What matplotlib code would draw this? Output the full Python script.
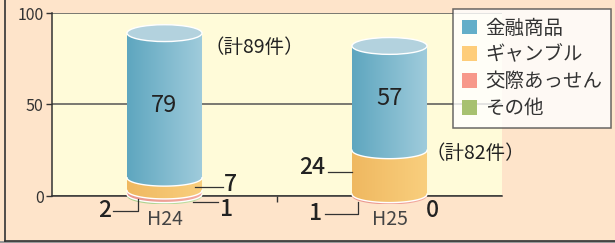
import numpy as np
import matplotlib
matplotlib.use("Agg")
import matplotlib.pyplot as plt
from matplotlib.patches import Polygon, Ellipse, Rectangle, Patch
from matplotlib.colors import LinearSegmentedColormap
from matplotlib.lines import Line2D

plt.rcParams['font.family'] = ['Noto Sans CJK JP', 'DejaVu Sans']

# ---- data ----
years = ["H24", "H25"]
series_names = ["金融商品", "ギャンブル", "交際あっせん", "その他"]
kinyu = [79, 57]
gamble = [7, 24]
kosai = [2, 1]
sonota = [1, 0]
totals = [89, 82]
yticks = [0, 50, 100]

legend_colors = ["#63aec9", "#fecd7a", "#f7988a", "#a7c170"]
grad_colors = [("#5ea6bf", "#a0ccdc"), ("#efb860", "#f9cf7e"),
               ("#e9958c", "#f4aca2"), ("#a9cf8a", "#c4e2a8")]
top_color = "#b3d2de"

W, H = 615, 243
fig = plt.figure(figsize=(W / 100, H / 100), dpi=100)
fig.patch.set_facecolor("#fee4ca")

ax = fig.add_axes([52 / W, 1 - 196 / H, 450 / W, 183 / H])
ax.set_facecolor("#fffbd9")

XMIN, XMAX, YMIN, YMAX = -0.5, 1.5, 0, 100
hw = 0.1667
ry = 4.6

grad = np.linspace(0, 1, 256).reshape(1, -1)
z = 3


def draw_segment(xc, y0, y1, cols, edge):
    global z
    cmap = LinearSegmentedColormap.from_list("g", list(cols))
    t = np.linspace(np.pi, 2 * np.pi, 80)
    ax_ = xc + hw * np.cos(t)
    ay_ = y0 + ry * np.sin(t)
    verts = [(xc - hw, y1)] + list(zip(ax_, ay_)) + [(xc + hw, y1)]
    poly = Polygon(verts, closed=True, transform=ax.transData,
                   facecolor="none", edgecolor="none", zorder=z)
    ax.add_patch(poly)
    im = ax.imshow(grad, extent=[xc - hw, xc + hw, y0 - ry, y1], aspect="auto",
                   cmap=cmap, origin="lower", zorder=z, interpolation="bilinear")
    im.set_clip_box(fig.bbox)
    im.set_clip_path(poly)
    if edge:
        ax.plot(ax_, ay_, color="white", lw=1.0, zorder=z + 0.5, clip_on=False)
    z += 1


stack = [sonota, kosai, gamble, kinyu]
for i, yr in enumerate(years):
    base = 0
    first = True
    for k in range(4):
        v = stack[k][i]
        if v <= 0:
            continue
        draw_segment(i, base, base + v, grad_colors[3 - k], edge=not first)
        first = False
        base += v
    e = Ellipse((i, base), 2 * hw, 2 * ry, facecolor=top_color,
                edgecolor="white", lw=1.0, zorder=z)
    ax.add_patch(e)
    z += 1

# value labels inside blue
for i in range(2):
    b0 = sonota[i] + kosai[i] + gamble[i]
    ax.text(i, b0 + kinyu[i] / 2, str(kinyu[i]), ha="center", va="center",
            fontsize=17, color="#222", zorder=50)

# totals
ax.text(0.40, 81.4, f"（計{totals[0]}件）", ha="center", va="center",
        fontsize=14, color="#222", zorder=50)
ax.text(1.38, 23.2, f"（計{totals[1]}件）", ha="center", va="center",
        fontsize=14, color="#222", zorder=50)

lc = "#333333"
lab_kw = dict(fontsize=16.5, color="#222", fontweight="medium", zorder=50,
              va="center", clip_on=False)

# H24 gamble 7
ax.plot([0.136, 0.26], [4.9, 4.9], color=lc, lw=0.9, zorder=40, clip_on=False)
ax.text(0.265, 6.5, str(gamble[0]), ha="left", **lab_kw)
# H24 sonota 1
ax.plot([0.127, 0.238], [-3.3, -3.3], color=lc, lw=0.9, zorder=40, clip_on=False)
ax.text(0.245, -7.3, str(sonota[0]), ha="left", **lab_kw)
# H24 kosai 2
ax.plot([-0.12, -0.12, -0.229], [-1.6, -8.2, -8.2], color=lc, lw=0.9,
        zorder=40, clip_on=False)
ax.text(-0.235, -7.9, str(kosai[0]), ha="right", **lab_kw)
# H25 gamble 24
yg = sonota[1] + kosai[1] + gamble[1] / 2
ax.plot([0.727, 0.833], [yg, yg], color=lc, lw=0.9, zorder=40, clip_on=False)
ax.text(0.715, yg + 2.5, str(gamble[1]), ha="right", **lab_kw)
# H25 kosai 1
ax.plot([0.86, 0.86, 0.713], [-3.3, -9.8, -9.8], color=lc, lw=0.9,
        zorder=40, clip_on=False)
ax.text(0.70, -9.3, str(kosai[1]), ha="right", **lab_kw)
# H25 sonota 0
ax.text(1.193, -7.9, str(sonota[1]), ha="center", **lab_kw)

# axes styling
ax.set_xlim(XMIN, XMAX)
ax.set_ylim(YMIN, YMAX)
ax.set_yticks(yticks)
ax.set_yticklabels([str(v) for v in yticks])
ax.tick_params(axis="y", length=4.5, width=1, color=lc, labelsize=11.5,
               labelcolor="#333", pad=1.5)
ax.set_xticks([0, 1])
ax.set_xticklabels(years)
ax.tick_params(axis="x", length=0, labelsize=14, labelcolor="#444", pad=9)
ax.set_xticks([0.5], minor=True)
ax.tick_params(axis="x", which="minor", length=4, width=1, color=lc)
ax.set_axisbelow(True)
ax.grid(axis="y", color="#555", lw=1.1)
ax.grid(axis="x", visible=False)
for s in ["top", "right"]:
    ax.spines[s].set_visible(False)
for s in ["left", "bottom"]:
    ax.spines[s].set_color(lc)
    ax.spines[s].set_linewidth(1.1)
    ax.spines[s].set_zorder(2)

# legend
handles = [Patch(facecolor=c, edgecolor="none") for c in legend_colors]
leg = fig.legend(handles, series_names, loc="upper left",
                 bbox_to_anchor=(453 / W, 1 - 9 / H), frameon=True,
                 fontsize=14, handlelength=0.8, handleheight=0.8,
                 handletextpad=0.4, labelspacing=0.3, borderpad=0.45,
                 fancybox=False, borderaxespad=0)
leg.get_frame().set_edgecolor("#444")
leg.get_frame().set_linewidth(1.1)
for t in leg.get_texts():
    t.set_color("#333")

# outer border
fig.add_artist(Rectangle((0, 0), 1, 2.5 / H, transform=fig.transFigure,
                         facecolor="#9a9a9a", edgecolor="none", zorder=0))
fig.add_artist(Line2D([4.5 / W, 4.5 / W], [2.5 / H, 1], transform=fig.transFigure,
                      color="#333", lw=1.2))
fig.add_artist(Line2D([4.5 / W, 1], [2.5 / H, 2.5 / H], transform=fig.transFigure,
                      color="#333", lw=1.2))

fig.savefig("out.png", dpi=100, facecolor=fig.get_facecolor())
